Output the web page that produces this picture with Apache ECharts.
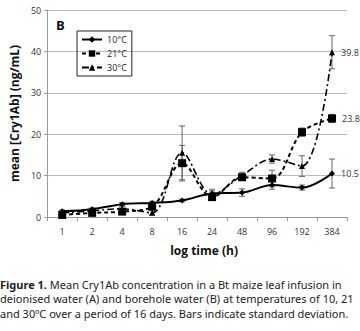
<!DOCTYPE html>
<html>
<head>
<meta charset="utf-8">
<script src="https://cdn.jsdelivr.net/npm/echarts@6/dist/echarts.min.js"></script>
<style>
  html, body { margin: 0; padding: 0; background: #fff; }
  #main { width: 360px; height: 331px; }
</style>
</head>
<body>
<div id="main"></div>
<script>
// log time (h) categories
var times = ['1', '2', '4', '8', '16', '24', '48', '96', '192', '384'];

// mean [Cry1Ab] (ng/mL)
var c10 = [1.4, 1.9, 3.1, 3.4, 4.0, 5.7, 5.9, 7.7, 7.1, 10.5];
var c21 = [0.5, 1.0, 1.3, 2.5, 13.0, 4.8, 9.6, 9.3, 20.5, 23.8];
var c30 = [1.0, 1.5, 2.0, 1.0, 15.5, 5.5, 10.0, 14.0, 12.3, 39.8];

// standard deviation
var sd10 = [0.3, 0.3, 0.4, 0.4, 0.3, 1.0, 0.9, 1.0, 0.6, 3.5];
var sd21 = [0.3, 0.3, 0.4, 0.5, 4.3, 0.8, 0.7, 2.0, 1.0, 1.0];
var sd30 = [0.3, 0.4, 0.6, 0.5, 6.5, 0.8, 0.8, 1.0, 2.5, 4.0];

var yTicks = [0, 10, 20, 30, 40, 50];

function errData(vals, sd) {
    return vals.map(function (v, i) { return [i, v - sd[i], v + sd[i]]; });
}

function errSeries(vals, sd) {
    return {
        type: 'custom',
        z: 1,
        silent: true,
        data: errData(vals, sd),
        renderItem: function (params, api) {
            var lo = api.coord([api.value(0), api.value(1)]);
            var hi = api.coord([api.value(0), api.value(2)]);
            var w = 3;
            var st = { stroke: '#666', lineWidth: 1 };
            return {
                type: 'group',
                children: [
                    { type: 'line', shape: { x1: hi[0], y1: hi[1], x2: lo[0], y2: lo[1] }, style: st },
                    { type: 'line', shape: { x1: hi[0] - w, y1: hi[1], x2: hi[0] + w, y2: hi[1] }, style: st },
                    { type: 'line', shape: { x1: lo[0] - w, y1: lo[1], x2: lo[0] + w, y2: lo[1] }, style: st }
                ]
            };
        }
    };
}

var lastLabel = {
    show: true,
    position: 'right',
    distance: 6,
    color: '#333',
    fontSize: 9,
    fontFamily: 'Open Sans',
    formatter: function (p) { return p.dataIndex === times.length - 1 ? p.value : ''; }
};

var chart = echarts.init(document.getElementById('main'), null, { renderer: 'svg' });

var option = {
    backgroundColor: '#ffffff',
    animation: false,
    grid: { left: 40, right: 13, top: 10, bottom: 114 },
    legend: {
        orient: 'vertical',
        left: 77,
        top: 31,
        padding: [4, 5, 4, 4],
        itemGap: 5,
        itemWidth: 20,
        itemHeight: 8,
        borderColor: '#222',
        borderWidth: 1,
        textStyle: { fontSize: 9, color: '#222', fontFamily: 'Open Sans' },
        data: ['10°C', '21°C', '30°C']
    },
    xAxis: {
        type: 'category',
        data: times,
        boundaryGap: true,
        name: 'log time (h)',
        nameLocation: 'middle',
        nameGap: 27,
        nameTextStyle: { fontSize: 12, fontWeight: 'bold', color: '#111', fontFamily: 'Open Sans', padding: [0, 0, 0, 14] },
        axisLine: { lineStyle: { color: '#999' } },
        axisTick: { show: true, lineStyle: { color: '#999' }, length: 4 },
        axisLabel: { fontSize: 9, color: '#333', fontFamily: 'Open Sans', margin: 10 }
    },
    yAxis: {
        type: 'value',
        min: yTicks[0],
        max: yTicks[yTicks.length - 1],
        interval: 10,
        name: 'mean [Cry1Ab] (ng/mL)',
        nameLocation: 'middle',
        nameGap: 24,
        nameTextStyle: { fontSize: 12, fontWeight: 'bold', color: '#111', fontFamily: 'Open Sans' },
        axisLine: { show: true, lineStyle: { color: '#999' } },
        axisTick: { show: true, lineStyle: { color: '#999' }, length: 3 },
        axisLabel: { fontSize: 9, color: '#333', fontFamily: 'Open Sans', margin: 6 },
        splitLine: { lineStyle: { color: '#bbb' } }
    },
    graphic: [
        {
            type: 'text', left: 56, top: 18,
            style: { text: 'B', font: 'bold 13px "Open Sans"', fill: '#111' }
        },
        {
            type: 'text', left: 0, top: 277,
            style: {
                text: '{b|Figure 1.} Mean Cry1Ab concentration in a Bt maize leaf infusion in\n' +
                      'deionised water (A) and borehole water (B) at temperatures of 10, 21\n' +
                      'and 30ºC over a period of 16 days. Bars indicate standard deviation.',
                font: '11px "Noto Sans"',
                lineHeight: 14.5,
                fill: '#222',
                rich: { b: { fontWeight: 'bold', fontSize: 11, fontFamily: 'Noto Sans', fill: '#222' } }
            }
        }
    ],
    series: [
        errSeries(c10, sd10),
        errSeries(c21, sd21),
        errSeries(c30, sd30),
        {
            name: '10°C', type: 'line', data: c10, smooth: 0.35, z: 4,
            symbol: 'diamond', symbolSize: 6,
            itemStyle: { color: '#000' },
            lineStyle: { color: '#000', width: 2 },
            label: lastLabel
        },
        {
            name: '21°C', type: 'line', data: c21, smooth: 0.35, z: 3,
            symbol: 'rect', symbolSize: 8,
            itemStyle: { color: '#000' },
            lineStyle: { color: '#000', width: 2, type: [4, 3] },
            label: lastLabel
        },
        {
            name: '30°C', type: 'line', data: c30, smooth: 0.35, z: 3,
            symbol: 'triangle', symbolSize: 6,
            itemStyle: { color: '#000' },
            lineStyle: { color: '#000', width: 1.6, type: [7, 3, 2, 3] },
            label: lastLabel
        }
    ]
};

chart.setOption(option);
</script>
</body>
</html>
